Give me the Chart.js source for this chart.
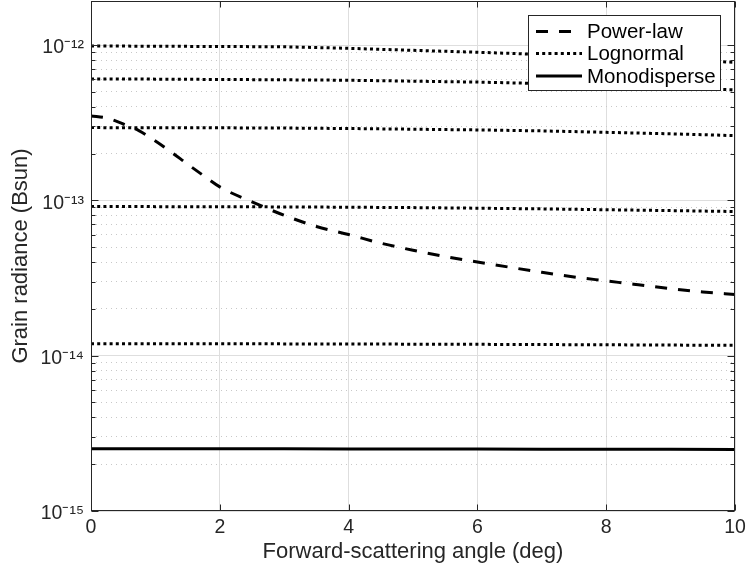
<!DOCTYPE html>
<html><head><meta charset="utf-8">
<script src="https://cdn.jsdelivr.net/npm/chart.js@4/dist/chart.umd.min.js"></script>
<style>html,body{margin:0;padding:0;background:#fff;}canvas{display:block;}</style>
</head><body>
<canvas id="c" width="748" height="569"></canvas>
<script>
// ---- data ----
const powerLawAngles = [0,0.25,0.5,0.75,1,1.25,1.5,1.75,2,2.5,3,3.5,4,4.5,5,5.5,6,6.5,7,7.5,8,8.5,9,9.5,10];
const powerLawRadiance = [3.49e-13,3.38e-13,3.10e-13,2.80e-13,2.41e-13,2.04e-13,1.71e-13,1.44e-13,1.22e-13,9.78e-14,8.01e-14,6.79e-14,6.02e-14,5.30e-14,4.77e-14,4.35e-14,4.01e-14,3.71e-14,3.44e-14,3.21e-14,3.03e-14,2.86e-14,2.70e-14,2.57e-14,2.48e-14];
const flatAngles = [0,1,2,3,4,5,6,7,8,9,10];
const lognormal1 = [9.86e-13,9.82e-13,9.78e-13,9.74e-13,9.52e-13,9.24e-13,8.98e-13,8.69e-13,8.37e-13,8.06e-13,7.74e-13];
const lognormal2 = [6.05e-13,6.03e-13,6.00e-13,5.97e-13,5.93e-13,5.85e-13,5.77e-13,5.65e-13,5.49e-13,5.31e-13,5.14e-13];
const lognormal3 = [2.94e-13,2.93e-13,2.93e-13,2.92e-13,2.90e-13,2.87e-13,2.84e-13,2.80e-13,2.74e-13,2.68e-13,2.61e-13];
const lognormal4 = [9.12e-14,9.11e-14,9.10e-14,9.07e-14,9.03e-14,8.98e-14,8.90e-14,8.81e-14,8.70e-14,8.59e-14,8.47e-14];
const lognormal5 = [1.195e-14,1.194e-14,1.193e-14,1.191e-14,1.189e-14,1.186e-14,1.183e-14,1.179e-14,1.175e-14,1.170e-14,1.165e-14];
const monodisperse = [2.52e-15,2.52e-15,2.52e-15,2.515e-15,2.51e-15,2.51e-15,2.505e-15,2.50e-15,2.50e-15,2.495e-15,2.49e-15];
const legendLabels = ['Power-law','Lognormal','Monodisperse'];
const xTicks = [0,2,4,6,8,10];
const yDecadeExponents = [-15,-14,-13,-12];
const xTitle = 'Forward-scattering angle (deg)';
const yTitle = 'Grain radiance (Bsun)';
const yMin = 1e-15, yMax = 1.92e-12;

// ---- helpers ----
const FONT = "'Liberation Sans', Arial, Helvetica, sans-serif";
const pts = (xs, ys) => xs.map((x, i) => ({x, y: ys[i]}));
const isDecade = v => { const l = Math.log10(v); return Math.abs(l - Math.round(l)) < 1e-6; };
const SUP = {'-':'\u207B','0':'\u2070','1':'\u00B9','2':'\u00B2','3':'\u00B3','4':'\u2074','5':'\u2075','6':'\u2076','7':'\u2077','8':'\u2078','9':'\u2079'};
const sup = s => String(s).split('').map(c => SUP[c] || c).join('');
const yTickValues = [];
yDecadeExponents.forEach(e => { for (let k = 1; k <= 9; k++) { const v = k * Math.pow(10, e); if (v <= yMax * 1.0001) yTickValues.push(v); } });

const DOT = [3, 3.2], DASH = [12, 11];
const lineDs = (label, data, dash, extra) => Object.assign({
  label, data, borderColor: '#000', borderWidth: 3, borderDash: dash, pointRadius: 0,
  fill: false, tension: 0, borderCapStyle: 'butt'
}, extra || {});

const datasets = [
  lineDs(legendLabels[0], pts(powerLawAngles, powerLawRadiance), DASH, {cubicInterpolationMode: 'monotone'}),
  lineDs(legendLabels[1], pts(flatAngles, lognormal1), DOT),
  lineDs(legendLabels[1], pts(flatAngles, lognormal2), DOT),
  lineDs(legendLabels[1], pts(flatAngles, lognormal3), DOT),
  lineDs(legendLabels[1], pts(flatAngles, lognormal4), DOT),
  lineDs(legendLabels[1], pts(flatAngles, lognormal5), DOT),
  lineDs(legendLabels[2], pts(flatAngles, monodisperse), [])
];

const framePlugin = {
  id: 'frame',
  afterDraw(chart) {
    const {ctx, chartArea: a, scales: {x, y}} = chart;
    ctx.save();
    const L = Math.round(a.left) + 0.5, R = Math.round(a.right) - 0.5;
    const T = Math.round(a.top) + 0.5, B = Math.round(a.bottom) - 0.5;
    ctx.strokeStyle = '#262626'; ctx.lineWidth = 1; ctx.setLineDash([]);
    ctx.beginPath();
    x.ticks.forEach(t => { const p = Math.round(x.getPixelForValue(t.value)) + 0.5;
      ctx.moveTo(p, B); ctx.lineTo(p, B - 6); ctx.moveTo(p, T); ctx.lineTo(p, T + 6); });
    y.ticks.forEach(t => { const p = Math.round(y.getPixelForValue(t.value)) + 0.5; const len = isDecade(t.value) ? 7 : 4;
      ctx.moveTo(L, p); ctx.lineTo(L + len, p); ctx.moveTo(R, p); ctx.lineTo(R - len, p); });
    ctx.stroke();
    ctx.strokeRect(L, T, R - L, B - T);
    // legend box inside the axes
    const bx = 528.5, by = 15.5, bw = 192, bh = 75;
    ctx.fillStyle = '#fff'; ctx.fillRect(bx, by, bw, bh);
    ctx.strokeStyle = '#262626'; ctx.strokeRect(bx, by, bw, bh);
    const rows = [31.5, 53.5, 76];
    const reps = [0, 1, 6];
    ctx.font = '20.5px ' + FONT; ctx.textBaseline = 'middle'; ctx.textAlign = 'left';
    reps.forEach((di, i) => {
      const ds = chart.data.datasets[di];
      ctx.strokeStyle = ds.borderColor; ctx.lineWidth = ds.borderWidth; ctx.lineCap = 'butt';
      ctx.setLineDash(ds.borderDash || []);
      ctx.beginPath(); ctx.moveTo(536, rows[i]); ctx.lineTo(582, rows[i]); ctx.stroke();
      ctx.setLineDash([]);
      ctx.fillStyle = '#000'; ctx.fillText(ds.label, 587, rows[i] + 1);
    });
    ctx.restore();
  }
};

new Chart(document.getElementById('c'), {
  type: 'line',
  data: {datasets},
  options: {
    responsive: false, animation: false, devicePixelRatio: 1,
    layout: {padding: {left: 0, right: 13, top: 1, bottom: 0}},
    plugins: {legend: {display: false}, tooltip: {enabled: false}},
    scales: {
      x: {
        type: 'linear', min: 0, max: 10,
        afterBuildTicks(s) { s.ticks = xTicks.map(v => ({value: v})); },
        ticks: {font: {family: FONT, size: 19.5}, color: '#262626', padding: 5, maxRotation: 0, autoSkip: false},
        grid: {color: '#dedede', lineWidth: 1, drawTicks: false},
        border: {display: false},
        title: {display: true, text: xTitle, font: {family: FONT, size: 22}, color: '#262626', padding: {top: 0, bottom: 4}},
        afterFit(s) { s.height = 58; s.paddingLeft = 0; s.paddingRight = 0; }
      },
      y: {
        type: 'logarithmic', min: yMin, max: yMax,
        afterBuildTicks(s) { s.ticks = yTickValues.map(v => ({value: v})); },
        ticks: {autoSkip: false, font: {family: FONT, size: 19.5}, color: '#262626', padding: 7, labelOffset: 3,
          callback: v => isDecade(v) ? '10' + sup(Math.round(Math.log10(v))) : ''},
        grid: {color: ctx => (ctx.tick && !isDecade(ctx.tick.value)) ? '#c8c8c8' : '#dedede', lineWidth: 1, drawTicks: false},
        border: {display: false, dash: ctx => (ctx.tick && !isDecade(ctx.tick.value)) ? [1, 4] : []},
        title: {display: true, text: yTitle, font: {family: FONT, size: 22}, color: '#262626', padding: {top: 8, bottom: 0}},
        afterFit(s) { s.width = 91; s.paddingTop = 0; s.paddingBottom = 0; }
      }
    }
  },
  plugins: [framePlugin]
});
</script>
</body></html>
